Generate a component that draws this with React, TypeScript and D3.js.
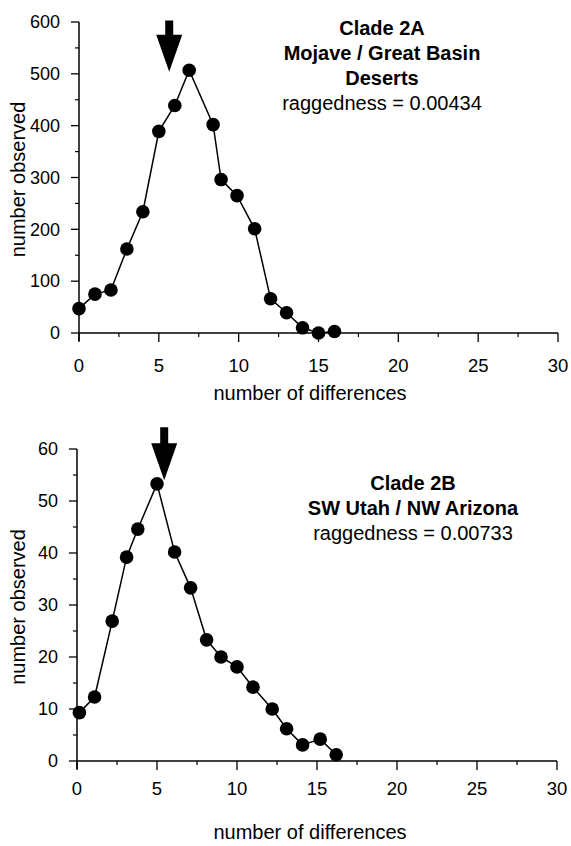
import React from 'react';
import * as d3 from 'd3';

// x positions (number of differences)
const diffsA = [0, 1, 2, 3, 4, 5, 6, 6.9, 8.4, 8.9, 9.9, 11, 12, 13, 14, 15, 16];
const observedA = [47, 75, 83, 162, 234, 389, 439, 507, 402, 296, 265, 201, 66, 39, 10, 0, 3];

const diffsB = [0.15, 1.1, 2.2, 3.1, 3.8, 5, 6.1, 7.1, 8.1, 9, 10, 11, 12.2, 13.1, 14.1, 15.2, 16.2];
const observedB = [9.3, 12.3, 26.9, 39.2, 44.6, 53.3, 40.2, 33.3, 23.3, 20, 18.1, 14.2, 10, 6.2, 3.1, 4.2, 1.2];

const xTicks = [0, 5, 10, 15, 20, 25, 30];
const yTicksA = [0, 100, 200, 300, 400, 500, 600];
const yTicksB = [0, 10, 20, 30, 40, 50, 60];

const titleA = ['Clade 2A', 'Mojave / Great Basin', 'Deserts'];
const raggedA = 'raggedness = 0.00434';
const titleB = ['Clade 2B', 'SW Utah / NW Arizona'];
const raggedB = 'raggedness = 0.00733';

const FONT = '"Liberation Sans", Arial, Helvetica, sans-serif';

type PanelProps = {
  xs: number[];
  ys: number[];
  yTicks: number[];
  yMax: number;
  xRange: [number, number];
  yRange: [number, number];
  arrow: { x: number; top: number; tip: number };
  title: string[];
  ragged: string;
  titleX: number;
  titleY: number;
  xLabelY: number;
  xTickDy: number;
};

function Panel(p: PanelProps) {
  const x = d3.scaleLinear().domain([0, 30]).range(p.xRange);
  const y = d3.scaleLinear().domain([0, p.yMax]).range(p.yRange);
  const pts = p.xs.map((v, i) => [v, p.ys[i]] as [number, number]);
  const line = d3.line<[number, number]>().x(d => x(d[0])).y(d => y(d[1]));
  const x0 = p.xRange[0];
  const y0 = p.yRange[0];
  const minorX = d3.range(2.5, 30, 5);
  const minorY = p.yTicks.slice(0, -1).map(t => t + p.yMax / 12);

  // arrow
  const ax = x(p.arrow.x);
  const aTop = y(p.arrow.top);
  const aTip = y(p.arrow.tip);
  const headH = 37;
  const arrowPath = `M${ax - 4},${aTop} L${ax + 4},${aTop} L${ax + 4},${aTip - headH} L${ax + 13},${aTip - headH}` +
    ` L${ax},${aTip} L${ax - 13},${aTip - headH} L${ax - 4},${aTip - headH} Z`;

  return (
    <g fontFamily={FONT} fill="#000">
      {/* axes */}
      <line x1={x0} x2={x0} y1={p.yRange[1]} y2={y0 + 8} stroke="#000" strokeWidth={1.5} />
      <line x1={x0 - 1} x2={p.xRange[1]} y1={y0} y2={y0} stroke="#000" strokeWidth={1.5} />
      {p.yTicks.map(t => (
        <g key={'yt' + t}>
          <line x1={x0 - 8} x2={x0} y1={y(t)} y2={y(t)} stroke="#000" strokeWidth={1.3} />
          <text x={x0 - 19} y={y(t)} dy="0.35em" textAnchor="end" fontSize={18}>{t}</text>
        </g>
      ))}
      {minorY.map(t => (
        <line key={'ym' + t} x1={x0 - 4} x2={x0} y1={y(t)} y2={y(t)} stroke="#000" strokeWidth={1.2} />
      ))}
      {xTicks.map(t => (
        <g key={'xt' + t}>
          <line x1={x(t)} x2={x(t)} y1={y0} y2={y0 + 9} stroke="#000" strokeWidth={1.3} />
          <text x={x(t)} y={y0 + p.xTickDy} textAnchor="middle" fontSize={18.5}>{t}</text>
        </g>
      ))}
      {minorX.map(t => (
        <line key={'xm' + t} x1={x(t)} x2={x(t)} y1={y0} y2={y0 + 4} stroke="#000" strokeWidth={1.2} />
      ))}
      <text x={310} y={p.xLabelY} textAnchor="middle" fontSize={20}>number of differences</text>
      <text transform={`translate(18,${(y0 + p.yRange[1]) / 2 + 2}) rotate(-90)`} dy="0.35em"
        textAnchor="middle" fontSize={20}>number observed</text>

      {/* series */}
      <path d={line(pts) || ''} fill="none" stroke="#000" strokeWidth={1.5} />
      {pts.map((d, i) => (
        <circle key={i} cx={x(d[0])} cy={y(d[1])} r={6.8} fill="#000" />
      ))}

      <path d={arrowPath} fill="#000" />

      {/* title */}
      {p.title.map((t, i) => (
        <text key={t} x={p.titleX} y={p.titleY + i * 25} textAnchor="middle" fontSize={20} fontWeight="bold">{t}</text>
      ))}
      <text x={p.titleX} y={p.titleY + p.title.length * 25} textAnchor="middle" fontSize={20}>{p.ragged}</text>
    </g>
  );
}

export default function App() {
  return (
    <svg width={571} height={846} style={{ position: 'absolute', left: 0, top: 0, background: '#fff' }}>
      <rect width={571} height={846} fill="#fff" />
      <Panel xs={diffsA} ys={observedA} yTicks={yTicksA} yMax={600}
        xRange={[79, 558]} yRange={[333, 22]}
        arrow={{ x: 5.65, top: 603, tip: 504 }}
        title={titleA} ragged={raggedA} titleX={382} titleY={35} xLabelY={400} xTickDy={39} />
      <Panel xs={diffsB} ys={observedB} yTicks={yTicksB} yMax={60}
        xRange={[77, 557]} yRange={[761, 449]}
        arrow={{ x: 5.45, top: 64.2, tip: 54 }}
        title={titleB} ragged={raggedB} titleX={413} titleY={490} xLabelY={839} xTickDy={34} />
    </svg>
  );
}
